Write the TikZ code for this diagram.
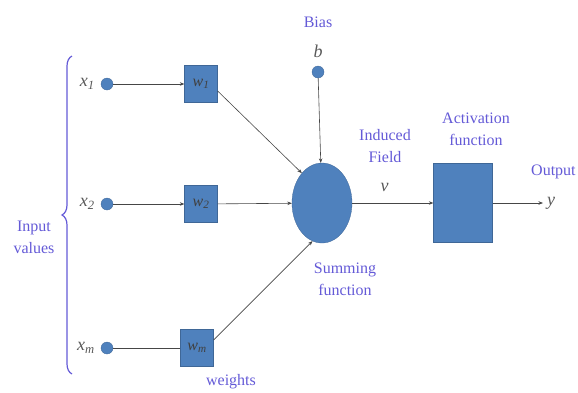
\documentclass[tikz,border=0pt]{standalone}
\usepackage{fontspec}
\setmainfont{Liberation Serif}
\usetikzlibrary{positioning,arrows.meta,shapes.geometric,decorations.pathreplacing}
\definecolor{nodeblue}{RGB}{79,129,189}
\definecolor{labviolet}{RGB}{100,90,215}
\definecolor{wirecol}{RGB}{70,70,70}

\begin{document}
\begin{tikzpicture}[x=1pt, y=-1pt, >={Stealth[length=4.5pt,width=3.5pt]},
  every node/.style={font=\fontsize{16}{22}\selectfont},
  dot/.style={circle, fill=nodeblue, draw=nodeblue!80!black, line width=0.3pt, minimum size=12pt, inner sep=0pt},
  wbox/.style={rectangle, fill=nodeblue, draw=nodeblue!80!black, line width=0.3pt, minimum width=33pt, minimum height=37pt, inner sep=0pt, text=black!75},
  lab/.style={text=labviolet, align=center, inner sep=0pt},
  var/.style={text=black!65, inner sep=0pt, font=\fontsize{18}{20}\selectfont},
  wire/.style={->, draw=wirecol, line width=0.6pt}]
  \useasboundingbox (0,0) rectangle (578,392);

  % inputs and weights
  \node[dot] (x1) at (107,84) {};
  \node[dot] (x2) at (107,204) {};
  \node[dot] (xm) at (107,348) {};
  \node[var, left=6pt of x1] (x1lab) {\textit{x}\textsubscript{\textit{1}}};
  \node[var, left=6pt of x2] (x2lab) {\textit{x}\textsubscript{\textit{2}}};
  \node[var, left=6pt of xm] (xmlab) {\textit{x}\textsubscript{\textit{m}}};
  \node[wbox] (w1) at (201,84) {\textit{w}\textsubscript{\textit{1}}};
  \node[wbox] (w2) at (201,204) {\textit{w}\textsubscript{\textit{2}}};
  \node[wbox] (wm) at (197,348) {\textit{w}\textsubscript{\textit{m}}};
  \draw[labviolet, line width=1.2pt, decorate, decoration={brace, amplitude=10pt}] (72,374) -- (72,56);
  \node[lab] (inval) at (34,237) {Input\\values};
  \node[lab] (wlab) at (231,382) {weights};

  % neuron
  \node[ellipse, fill=nodeblue, draw=nodeblue!80!black, line width=0.3pt, minimum width=60pt, minimum height=80pt] (sum) at (322,203) {};
  \node[dot] (bias) at (318,72) {};
  \node[var, above=8pt of bias] (b) {\textit{b}};
  \node[lab] (biaslab) at (318,22) {Bias};
  \node[lab] (sumlab) at (345,279) {Summing\\function};
  \node[rectangle, fill=nodeblue, draw=nodeblue!80!black, line width=0.3pt, minimum width=59pt, minimum height=79pt] (act) at (463,203) {};
  \node[lab] (actlab) at (476,129) {Activation\\function};
  \node[lab] (indlab) at (385,146) {Induced\\Field};
  \coordinate (out) at (543,203);
  \node[var, right=4pt of out] (y) {\textit{y}};
  \node[lab, anchor=west] (outlab) at (531,172) {Output};

  \draw[wire] (x1) -- (w1);
  \draw[wire] (x2) -- (w2);
  \draw[wire, -] (xm) -- (wm);
  \draw[wire] ([yshift=-7pt]w1.east) -- (sum.124);
  \draw[wire] (w2) -- (sum);
  \draw[wire] ([yshift=8pt]wm.east) -- (sum.256);
  \draw[wire] (bias) -- (sum);
  \draw[wire] (sum) -- node[var, pos=0.4, above=11pt] (v) {\textit{v}} (act);
  \draw[wire] (act) -- (out);
\end{tikzpicture}
\end{document}
